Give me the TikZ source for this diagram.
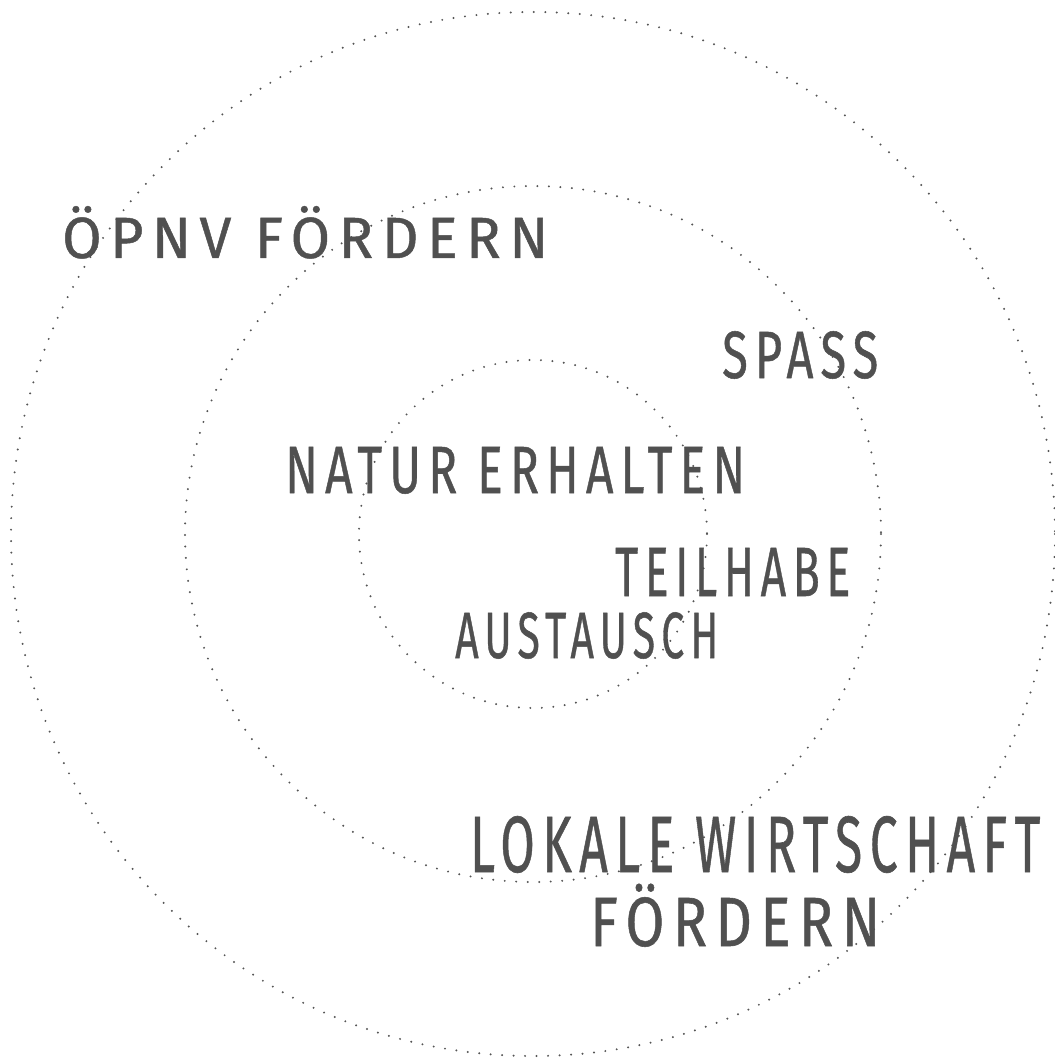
\documentclass[tikz,border=0pt]{standalone}
\usepackage{fontspec}
\setmainfont{Fira Sans}[LetterSpace=15, FakeBold=0.8]
\definecolor{dotgray}{HTML}{555555}
\definecolor{inkgray}{HTML}{505050}

% Fit a caps-only label into a given width and cap height
\newcommand\capsfit[3]{\resizebox{#1}{#2}{\rule{0pt}{\fontcharht\font`H}\smash{#3}}}

\tikzset{
  ring/.style={draw=dotgray, line width=2.2pt, line cap=round, dash pattern=on 0pt off 11.5pt},
  word/.style={text=inkgray, inner sep=0pt, anchor=base west},
}

\begin{document}
\begin{tikzpicture}[x=1pt, y=-1pt]
  \useasboundingbox (0,0) rectangle (1054,1059);

  % three concentric dotted rings
  \coordinate (c) at (533,534);
  \draw[ring] (c) circle[radius=522];
  \draw[ring] (c) circle[radius=348];
  \draw[ring] (c) circle[radius=174];

  % labels
  \node[word] (opnv)    at (62,258)  {\capsfit{486pt}{40pt}{ÖPNV FÖRDERN}};
  \node[word] (spass)   at (722,378) {\capsfit{156pt}{46pt}{SPASS}};
  \node[word] (natur)   at (285,493) {\capsfit{460pt}{46pt}{NATUR ERHALTEN}};
  \node[word] (teil)    at (615,596) {\capsfit{235pt}{48pt}{TEILHABE}};
  \node[word] (aust)    at (455,658) {\capsfit{263pt}{45pt}{AUSTAUSCH}};
  \node[word] (lokal)   at (470,872) {\capsfit{570pt}{55pt}{LOKALE WIRTSCHAFT}};
  \node[word] (foerd)   at (590,946) {\capsfit{290pt}{48pt}{FÖRDERN}};
\end{tikzpicture}
\end{document}
